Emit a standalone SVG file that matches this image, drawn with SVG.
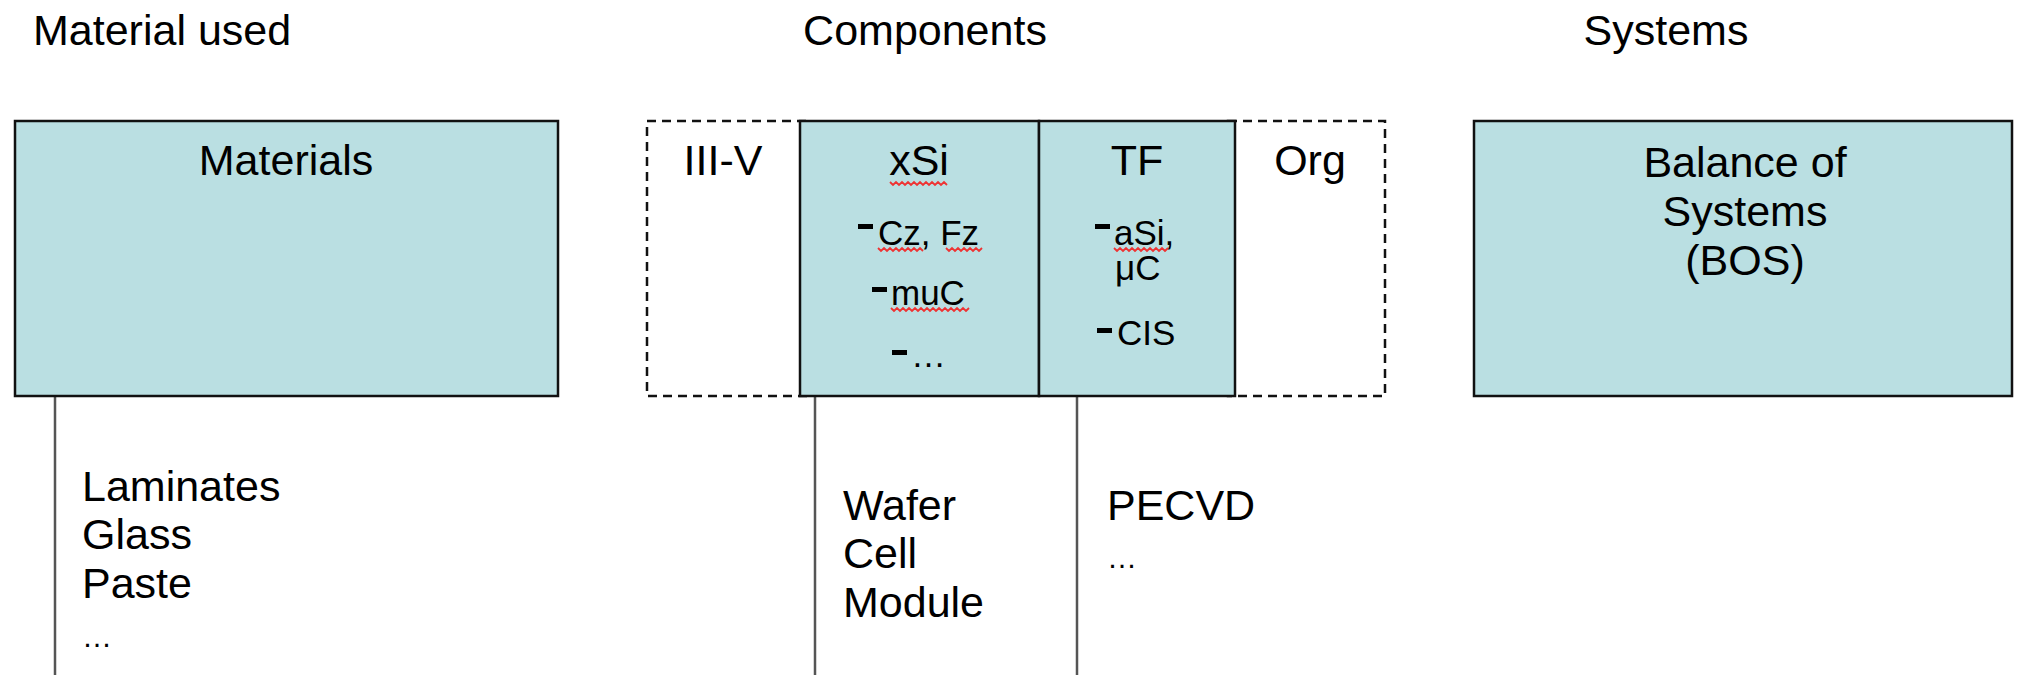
<svg xmlns="http://www.w3.org/2000/svg" width="2022" height="675" viewBox="0 0 2022 675">
<style>
text{font-family:"Liberation Sans",Arial,sans-serif;fill:#000}
.big{font-size:43px}
.sm{font-size:35px}
.box{fill:#BADFE2;stroke:#111;stroke-width:2.5}
.dash{fill:#fff;stroke:#111;stroke-width:2.5;stroke-dasharray:9 6}
.bul{fill:#000}
.sq{fill:none;stroke:#e33;stroke-width:1.8}
.conn{stroke:#555;stroke-width:2.5;fill:none}
</style>
<rect width="2022" height="675" fill="#fff"/>
<g id="headers">
<text class="big" x="33" y="45">Material used</text>
<text class="big" x="925" y="45" text-anchor="middle">Components</text>
<text class="big" x="1666" y="45" text-anchor="middle">Systems</text>
</g>
<g id="connectors">
<line class="conn" x1="55" y1="397" x2="55" y2="675"/>
<line class="conn" x1="815" y1="397" x2="815" y2="675"/>
<line class="conn" x1="1077" y1="397" x2="1077" y2="675"/>
</g>
<g id="materials">
<rect class="box" x="15" y="121" width="543" height="275"/>
<text class="big" x="286" y="175" text-anchor="middle">Materials</text>
</g>
<g id="iiiv">
<rect class="dash" x="647" y="121" width="160" height="275"/>
<text class="big" x="723" y="175" text-anchor="middle">III-V</text>
</g>
<g id="org">
<rect class="dash" x="1228" y="121" width="157" height="275"/>
<text class="big" x="1310" y="175" text-anchor="middle">Org</text>
</g>
<g id="xsi">
<rect class="box" x="800" y="121" width="239" height="275"/>
<text class="big" x="919" y="175" text-anchor="middle">xSi</text>
<path class="sq" d="M890 182 l3 3 l3 -3 l3 3 l3 -3 l3 3 l3 -3 l3 3 l3 -3 l3 3 l3 -3 l3 3 l3 -3 l3 3 l3 -3 l3 3 l3 -3 l3 3 l3 -3 l3 3"/>
<rect class="bul" x="858" y="224" width="15" height="5"/>
<text class="sm" x="878" y="245">Cz, Fz</text>
<path class="sq" d="M878 248 l3 3 l3 -3 l3 3 l3 -3 l3 3 l3 -3 l3 3 l3 -3 l3 3 l3 -3 l3 3 l3 -3 l3 3 l3 -3 l3 3"/>
<path class="sq" d="M946 248 l3 3 l3 -3 l3 3 l3 -3 l3 3 l3 -3 l3 3 l3 -3 l3 3 l3 -3 l3 3 l3 -3"/>
<rect class="bul" x="872" y="287" width="15" height="5"/>
<text class="sm" x="891" y="305">muC</text>
<path class="sq" d="M891 308 l3 3 l3 -3 l3 3 l3 -3 l3 3 l3 -3 l3 3 l3 -3 l3 3 l3 -3 l3 3 l3 -3 l3 3 l3 -3 l3 3 l3 -3 l3 3 l3 -3 l3 3 l3 -3 l3 3 l3 -3 l3 3 l3 -3 l3 3 l3 -3"/>
<rect class="bul" x="892" y="350" width="15" height="5"/>
<text class="sm" x="911" y="367">…</text>
</g>
<g id="tf">
<rect class="box" x="1039" y="121" width="196" height="275"/>
<text class="big" x="1137" y="175" text-anchor="middle">TF</text>
<rect class="bul" x="1095" y="224" width="15" height="5"/>
<text class="sm" x="1114" y="245">aSi,</text>
<path class="sq" d="M1114 248 l3 3 l3 -3 l3 3 l3 -3 l3 3 l3 -3 l3 3 l3 -3 l3 3 l3 -3 l3 3 l3 -3 l3 3 l3 -3 l3 3 l3 -3 l3 3 l3 -3"/>
<text class="sm" x="1115" y="280">μC</text>
<rect class="bul" x="1097" y="328" width="15" height="5"/>
<text class="sm" x="1117" y="345">CIS</text>
</g>
<g id="bos">
<rect class="box" x="1474" y="121" width="538" height="275"/>
<text class="big" text-anchor="middle"><tspan x="1745" y="177">Balance of</tspan><tspan x="1745" y="226">Systems</tspan><tspan x="1745" y="275">(BOS)</tspan></text>
</g>
<g id="materials-list">
<text class="big"><tspan x="82" y="501">Laminates</tspan><tspan x="82" y="549">Glass</tspan><tspan x="82" y="598">Paste</tspan><tspan x="82" y="647" font-size="30">…</tspan></text>
</g>
<g id="wafer-list">
<text class="big"><tspan x="843" y="520">Wafer</tspan><tspan x="843" y="568">Cell</tspan><tspan x="843" y="617">Module</tspan></text>
</g>
<g id="pecvd-list">
<text class="big"><tspan x="1107" y="520">PECVD</tspan><tspan x="1107" y="568" font-size="30">…</tspan></text>
</g>
</svg>
